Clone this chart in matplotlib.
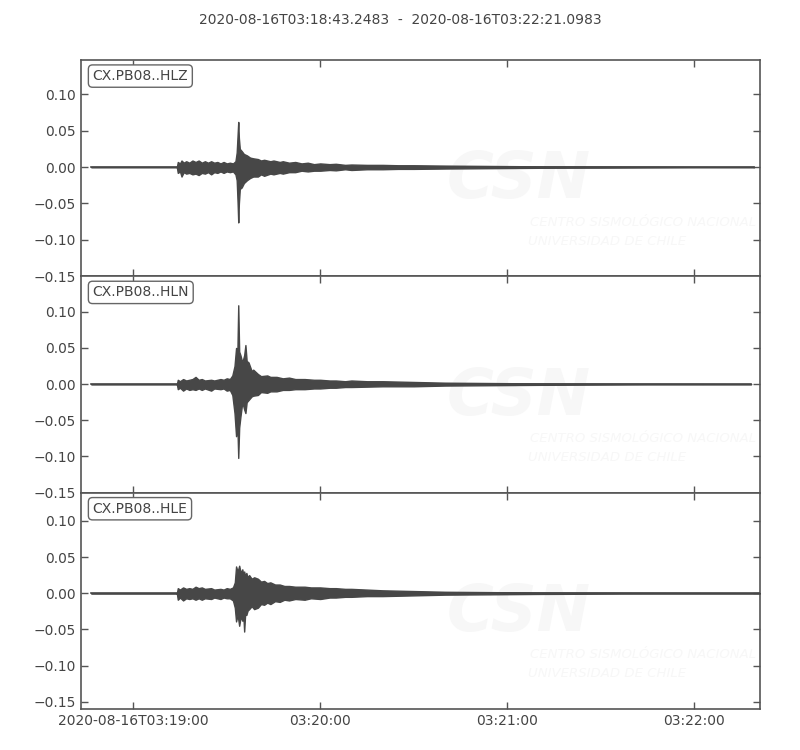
from datetime import datetime, timedelta

import numpy as np
import matplotlib
matplotlib.use("Agg")
import matplotlib.pyplot as plt
import matplotlib.dates as mdates
from matplotlib.ticker import FixedLocator, FuncFormatter

BASE = datetime(2020, 8, 16, 3, 19, 0)
T_START = -16.7517   # 03:18:43.2483
T_END = 81.0983 + 120  # 03:22:21.0983

CHANNELS = ["CX.PB08..HLZ", "CX.PB08..HLN", "CX.PB08..HLE"]

# envelope: seconds after 03:19:00, upper / lower amplitude
hlz_t = [-13.5, 14.0, 14.3, 15.0, 15.5, 16.2, 17, 18, 19, 20, 21, 22, 23, 24, 25, 26, 27, 28,
         29, 30, 31, 32, 32.8, 33.2, 33.5, 33.7, 33.9, 34.2, 34.8, 35.5, 36.5, 37.5, 38.5, 40,
         41, 42, 44, 45, 47, 48, 50, 52, 54, 56, 58, 60, 63, 65, 68, 70, 75, 80, 85, 90, 100,
         115, 130, 150, 170, 199.3]
hlz_hi = [0, 0, 0.007, 0.005, 0.009, 0.006, 0.008, 0.006, 0.009, 0.007, 0.009, 0.006, 0.008,
          0.006, 0.008, 0.006, 0.007, 0.005, 0.007, 0.005, 0.006, 0.005, 0.008, 0.020, 0.045,
          0.062, 0.040, 0.025, 0.022, 0.018, 0.016, 0.013, 0.012, 0.011, 0.009, 0.010, 0.008,
          0.009, 0.007, 0.008, 0.006, 0.007, 0.005, 0.006, 0.004, 0.005, 0.004, 0.0045, 0.003,
          0.0035, 0.003, 0.003, 0.0025, 0.0025, 0.002, 0.0015, 0.001, 0.0008, 0.0005, 0]
hlz_lo = [0, 0, -0.008, -0.006, -0.013, -0.007, -0.009, -0.008, -0.010, -0.009, -0.011, -0.008,
          -0.009, -0.007, -0.010, -0.007, -0.008, -0.006, -0.008, -0.006, -0.007, -0.006,
          -0.010, -0.018, -0.050, -0.076, -0.050, -0.030, -0.028, -0.022, -0.018, -0.015,
          -0.013, -0.013, -0.010, -0.012, -0.009, -0.010, -0.008, -0.009, -0.007, -0.007,
          -0.005, -0.006, -0.005, -0.005, -0.004, -0.0045, -0.003, -0.004, -0.003, -0.003,
          -0.0025, -0.0025, -0.002, -0.0015, -0.001, -0.0008, -0.0005, 0]

hln_t = [-13.5, 14.0, 14.3, 15, 16, 17, 18, 19, 20, 21, 22, 23, 25, 26, 28, 29, 30, 31, 31.8,
         32.5, 33.0, 33.4, 33.7, 34.0, 34.4, 35, 35.6, 36.0, 36.4, 37, 38, 38.5, 40, 41, 43, 44,
         46, 48, 50, 52, 55, 58, 60, 63, 65, 68, 70, 75, 80, 90, 100, 115, 130, 160, 198.3]
hln_hi = [0, 0, 0.006, 0.004, 0.007, 0.005, 0.006, 0.007, 0.010, 0.006, 0.007, 0.005, 0.006,
          0.005, 0.007, 0.006, 0.008, 0.007, 0.012, 0.025, 0.050, 0.040, 0.109, 0.045, 0.040,
          0.030, 0.040, 0.054, 0.032, 0.030, 0.018, 0.020, 0.014, 0.011, 0.012, 0.010, 0.010,
          0.008, 0.009, 0.007, 0.007, 0.006, 0.006, 0.005, 0.005, 0.004, 0.005, 0.004, 0.004,
          0.003, 0.002, 0.0015, 0.001, 0.0005, 0]
hln_lo = [0, 0, -0.007, -0.005, -0.009, -0.006, -0.008, -0.007, -0.008, -0.006, -0.008, -0.006,
          -0.009, -0.006, -0.007, -0.006, -0.009, -0.008, -0.015, -0.040, -0.072, -0.055,
          -0.102, -0.060, -0.045, -0.025, -0.035, -0.040, -0.025, -0.022, -0.017, -0.016,
          -0.015, -0.011, -0.012, -0.010, -0.010, -0.008, -0.008, -0.007, -0.007, -0.006,
          -0.006, -0.005, -0.005, -0.004, -0.004, -0.0035, -0.003, -0.003, -0.002, -0.0015,
          -0.001, -0.0005, 0]

hle_t = [-13.5, 14.0, 14.3, 15, 16, 17, 18, 19, 20, 21, 22, 23, 25, 26, 28, 29, 30, 31, 32,
         32.6, 33, 33.5, 34, 34.5, 35, 35.3, 35.6, 35.9, 36.3, 36.7, 37.2, 38, 38.8, 40, 41,
         42, 43, 44, 45.5, 47, 48.5, 50, 52, 55, 57, 60, 63, 65, 68, 70, 75, 80, 90, 100, 115,
         130, 160, 201.1]
hle_hi = [0, 0, 0.007, 0.005, 0.008, 0.006, 0.007, 0.006, 0.009, 0.007, 0.008, 0.006, 0.007,
          0.005, 0.006, 0.005, 0.007, 0.006, 0.008, 0.015, 0.037, 0.030, 0.038, 0.028, 0.033,
          0.026, 0.030, 0.024, 0.028, 0.022, 0.025, 0.020, 0.022, 0.020, 0.016, 0.017, 0.014,
          0.015, 0.012, 0.012, 0.010, 0.010, 0.009, 0.009, 0.008, 0.008, 0.007, 0.007, 0.006,
          0.006, 0.005, 0.004, 0.003, 0.002, 0.0015, 0.001, 0.0005, 0]
hle_lo = [0, 0, -0.009, -0.006, -0.010, -0.007, -0.008, -0.007, -0.009, -0.007, -0.009,
          -0.007, -0.008, -0.006, -0.008, -0.006, -0.007, -0.007, -0.010, -0.020, -0.039,
          -0.030, -0.045, -0.032, -0.038, -0.028, -0.053, -0.030, -0.030, -0.024, -0.022,
          -0.018, -0.022, -0.020, -0.015, -0.016, -0.013, -0.015, -0.011, -0.012, -0.009,
          -0.010, -0.008, -0.009, -0.007, -0.008, -0.006, -0.006, -0.005, -0.005, -0.004,
          -0.004, -0.003, -0.002, -0.0015, -0.001, -0.0005, 0]

YLIMS = [(-0.15, 0.147), (-0.15, 0.149), (-0.16, 0.139)]
YTICKS = [-0.15, -0.10, -0.05, 0.0, 0.05, 0.10]
XTICK_SEC = [0, 60, 120, 180]

TRACE = "#474747"
TEXT = "#444444"
SPINE = "#555555"
WATERMARK = "#f7f7f7"


def to_num(seconds):
    return mdates.date2num([BASE + timedelta(seconds=float(s)) for s in seconds])


def tick_label(x, pos):
    d = mdates.num2date(x)
    if pos == 0:
        return d.strftime("%Y-%m-%dT%H:%M:%S")
    return d.strftime("%H:%M:%S")


def main():
    plt.rcParams["font.family"] = ["DejaVu Sans"]
    fig = plt.figure(figsize=(8, 7.5), dpi=100)
    fig.subplots_adjust(left=0.10125, right=0.95, top=0.92, bottom=0.0547, hspace=0)
    axes = fig.subplots(3, 1, sharex=True)

    traces = [(hlz_t, hlz_hi, hlz_lo), (hln_t, hln_hi, hln_lo), (hle_t, hle_hi, hle_lo)]
    for ax, name, (t, hi, lo), ylim in zip(axes, CHANNELS, traces, YLIMS):
        x = to_num(t)
        ax.fill_between(x, lo, hi, color=TRACE, lw=1.0, edgecolor=TRACE, zorder=3)
        ax.plot(x, np.zeros(len(x)), color=TRACE, lw=1.2, zorder=3)

        # faint CSN watermark
        ax.text(0.645, 0.444, "CSN", transform=ax.transAxes, ha="center", va="center",
                fontsize=46, fontweight="bold", style="italic", color=WATERMARK, zorder=1,
                clip_on=True)
        ax.text(0.661, 0.25, "CENTRO SISMOLÓGICO NACIONAL", transform=ax.transAxes,
                ha="left", va="center", fontsize=9.5, style="italic", color=WATERMARK,
                zorder=1, clip_on=True)
        ax.text(0.658, 0.162, "UNIVERSIDAD DE CHILE", transform=ax.transAxes,
                ha="left", va="center", fontsize=9.5, style="italic", color=WATERMARK,
                zorder=1, clip_on=True)

        ax.text(0.017, 0.958, name, transform=ax.transAxes, ha="left", va="top",
                fontsize=10, color=TEXT, zorder=5,
                bbox=dict(boxstyle="round,pad=0.3", fc="white", ec="#666666", lw=1))

        ax.set_ylim(*ylim)
        ax.yaxis.set_major_locator(FixedLocator(YTICKS))
        ax.yaxis.set_major_formatter(FuncFormatter(lambda v, p: f"{v:.2f}".replace("-", "\u2212")))
        ax.tick_params(direction="in", top=True, right=True, length=5, width=1,
                       colors=SPINE, labelcolor=TEXT, labelsize=10)
        for s in ax.spines.values():
            s.set_color(SPINE)
            s.set_linewidth(1.2)

    axes[0].set_xlim(to_num([T_START])[0], to_num([T_END])[0])
    axes[-1].xaxis.set_major_locator(FixedLocator(to_num(XTICK_SEC)))
    axes[-1].xaxis.set_major_formatter(FuncFormatter(tick_label))
    for ax in axes[:-1]:
        ax.tick_params(labelbottom=False)

    fig.suptitle("2020-08-16T03:18:43.2483  -  2020-08-16T03:22:21.0983",
                 fontsize=10, color=TEXT, y=0.973, va="center")
    fig.savefig("out.png", dpi=100)
    plt.close(fig)


if __name__ == "__main__":
    main()
